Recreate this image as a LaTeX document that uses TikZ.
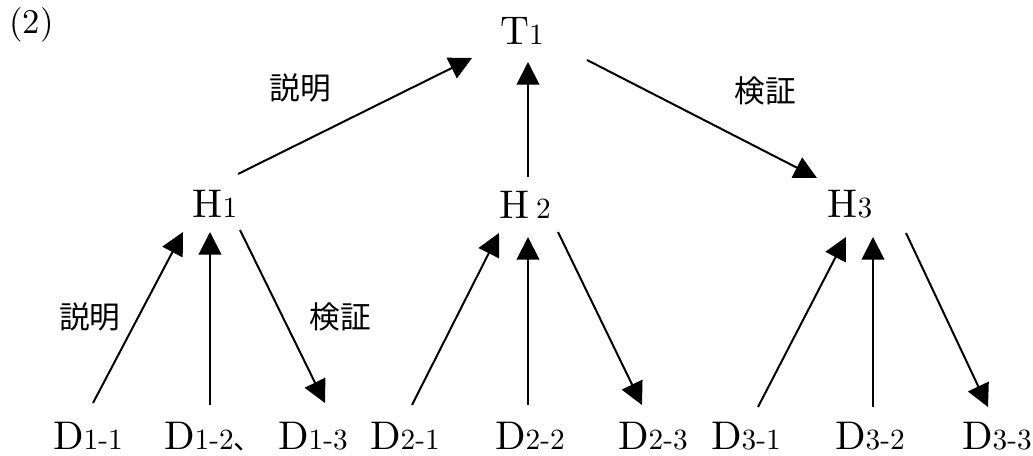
\documentclass[tikz,border=0pt]{standalone}
\usepackage{fontspec}
\setmainfont{lmroman10-regular}[Extension=.otf]
\newfontfamily\cjk{Noto Sans CJK JP}
\usetikzlibrary{arrows.meta}
\newcommand\subtxt[1]{{\fontsize{22}{22}\selectfont #1}}
\tikzset{
  lbl/.style={inner sep=0pt, anchor=base, font=\fontsize{30}{34}\selectfont},
  jp/.style={inner sep=0pt, font=\cjk\fontsize{23}{26}\selectfont},
  arr/.style={line width=1.5pt, -{Triangle[length=17pt,width=17pt]}}
}
\begin{document}
\begin{tikzpicture}[x=0.75pt,y=-0.75pt]
\useasboundingbox (0,0) rectangle (1033,456);
\node[inner sep=0pt, anchor=base west, font=\fontsize{26}{30}\selectfont] (num) at (9,34) {(2)};
\node[lbl] (T1) at (522,45) {T\subtxt{1}};
\node[lbl] (H1) at (215,218) {H\subtxt{1}};
\node[lbl] (H2) at (525,219) {H\,\subtxt{2}};
\node[lbl] (H3) at (850,218) {H\subtxt{3}};
\node[lbl] (D11) at (88,450) {D\subtxt{1-1}};
\node[lbl] (D12) at (213,450) {D\subtxt{1-2}{\cjk\fontsize{21}{21}\selectfont 、}};
\node[lbl] (D13) at (313,450) {D\subtxt{1-3}};
\node[lbl] (D21) at (405,450) {D\subtxt{2-1}};
\node[lbl] (D22) at (530,450) {D\subtxt{2-2}};
\node[lbl] (D23) at (653,450) {D\subtxt{2-3}};
\node[lbl] (D31) at (746,450) {D\subtxt{3-1}};
\node[lbl] (D32) at (870,450) {D\subtxt{3-2}};
\node[lbl] (D33) at (997,450) {D\subtxt{3-3}};
\node[jp] (e1) at (300,88) {説明};
\node[jp] (v1) at (765,91) {検証};
\node[jp] (e2) at (90,317) {説明};
\node[jp] (v2) at (340,317) {検証};
% top level
\draw[arr] ([shift={(23,-44)}]H1.base) -- ([shift={(-50,13)}]T1.base);
\draw[arr] ([shift={(3,-42)}]H2.base) -- ([shift={(6,17)}]T1.base);
\draw[arr] ([shift={(65,15)}]T1.base) -- ([shift={(-33,-40)}]H3.base);
% H1 group
\draw[arr] ([shift={(5,-47)}]D11.base) -- ([shift={(-32,14)}]H1.base);
\draw[arr] ([shift={(-3,-45)}]D12.base) -- ([shift={(-5,14)}]H1.base);
\draw[arr] ([shift={(25,12)}]H1.base) -- ([shift={(12,-47)}]D13.base);
% H2 group
\draw[arr] ([shift={(7,-45)}]D21.base) -- ([shift={(-26,14)}]H2.base);
\draw[arr] ([shift={(-2,-45)}]D22.base) -- ([shift={(3,18)}]H2.base);
\draw[arr] ([shift={(33,13)}]H2.base) -- ([shift={(-11,-45)}]D23.base);
% H3 group
\draw[arr] ([shift={(12,-43)}]D31.base) -- ([shift={(-4,19)}]H3.base);
\draw[arr] ([shift={(3,-43)}]D32.base) -- ([shift={(23,19)}]H3.base);
\draw[arr] ([shift={(56,15)}]H3.base) -- ([shift={(-9,-43)}]D33.base);
\end{tikzpicture}
\end{document}
